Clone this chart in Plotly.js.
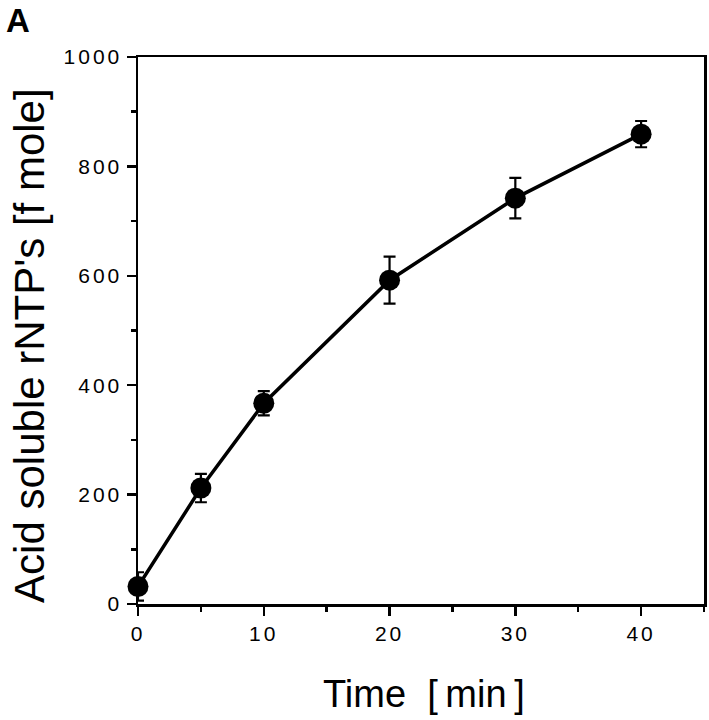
<!DOCTYPE html>
<html>
<head>
<meta charset="utf-8">
<script src="https://cdn.plot.ly/plotly-3.0.1.min.js"></script>
<style>
html,body{margin:0;padding:0;background:#fff;}
#chart{width:709px;height:720px;}
.xtick text,.ytick text{letter-spacing:3px;}
</style>
</head>
<body>
<div id="chart"></div>
<script>
// Data
const timeMin = [0, 5, 10, 20, 30, 40];
const rntpFmole = [32, 212, 367, 592, 742, 859];
const rntpError = [26, 26, 22, 43, 37, 24];

const xTickVals = [0, 10, 20, 30, 40];
const yTickVals = [0, 200, 400, 600, 800, 1000];

const xTitle = 'Time\u00a0\u00a0[\u2009min\u2009]';
const yTitle = "Acid soluble rNTP's [f mole]";
const panelLabel = 'A';

const fontFam = '"Liberation Sans", Arial, Helvetica, sans-serif';

const trace = {
  x: timeMin,
  y: rntpFmole,
  type: 'scatter',
  mode: 'lines+markers',
  cliponaxis: false,
  line: {color: '#000', width: 3.5},
  marker: {color: '#000', size: 21, symbol: 'circle'},
  error_y: {type: 'data', array: rntpError, visible: true, color: '#000', thickness: 2.2, width: 6},
  showlegend: false,
  hoverinfo: 'x+y'
};

const layout = {
  width: 709,
  height: 720,
  margin: {l: 138, r: 5, t: 57, b: 116},
  paper_bgcolor: '#fff',
  plot_bgcolor: '#fff',
  font: {family: fontFam, color: '#000'},
  xaxis: {
    range: [0, 45],
    tickvals: xTickVals,
    ticktext: xTickVals.map(String),
    ticks: 'outside', ticklen: 9, tickwidth: 2.5, tickcolor: '#000',
    minor: {dtick: 5, ticks: 'outside', ticklen: 5, tickwidth: 2.5, tickcolor: '#000', showgrid: false},
    showline: true, linewidth: 2.5, linecolor: '#000', mirror: true,
    showgrid: false, zeroline: false,
    tickfont: {size: 21, family: fontFam, color: '#000'}
  },
  yaxis: {
    range: [0, 1000],
    tickvals: yTickVals,
    ticktext: yTickVals.map(String),
    ticks: 'outside', ticklen: 9, tickwidth: 2.5, tickcolor: '#000',
    minor: {dtick: 100, ticks: 'outside', ticklen: 5, tickwidth: 2.5, tickcolor: '#000', showgrid: false},
    showline: true, linewidth: 2.5, linecolor: '#000', mirror: true,
    showgrid: false, zeroline: false,
    tickfont: {size: 21, family: fontFam, color: '#000'}
  },
  annotations: [
    {text: xTitle, xref: 'paper', yref: 'paper', x: 0.505, y: -0.1645,
     xanchor: 'center', yanchor: 'middle', showarrow: false,
     font: {size: 38, family: fontFam, color: '#000'}},
    {text: yTitle, xref: 'paper', yref: 'paper', x: -0.191, y: 0.4735,
     xanchor: 'center', yanchor: 'middle', textangle: -90, showarrow: false,
     font: {size: 42, family: fontFam, color: '#000'}},
    {text: '<b>' + panelLabel + '</b>', xref: 'paper', yref: 'paper', x: -0.2350, y: 1.102,
     xanchor: 'left', yanchor: 'top', showarrow: false, borderpad: 0,
     font: {size: 33, family: fontFam, color: '#000'}}
  ]
};

Plotly.newPlot('chart', [trace], layout, {displayModeBar: false, staticPlot: true});
</script>
</body>
</html>
